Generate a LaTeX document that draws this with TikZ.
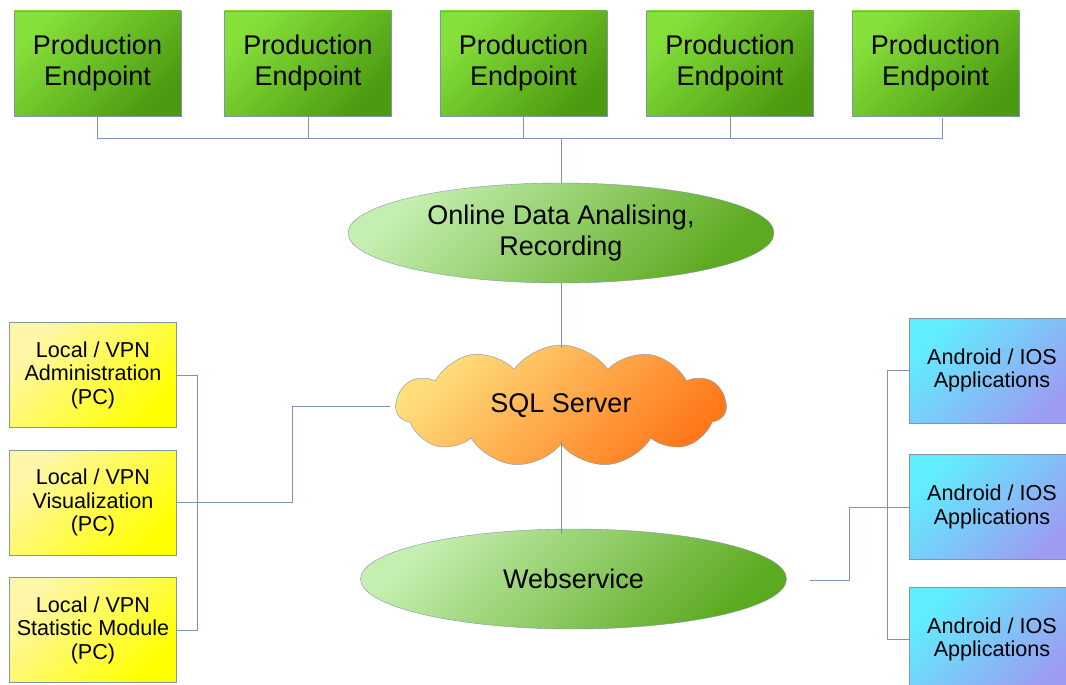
\documentclass[tikz,border=0pt]{standalone}
\usepackage{fontspec}
\setmainfont{Liberation Sans}
\usetikzlibrary{shapes.geometric,shapes.symbols}

\definecolor{linkcol}{HTML}{7B93B5}
\definecolor{edgecol}{HTML}{8294A8}
\definecolor{greenA}{RGB}{134,224,58}
\definecolor{greenB}{RGB}{76,154,16}
\definecolor{paleA}{RGB}{197,239,176}
\definecolor{paleB}{RGB}{92,170,32}
\definecolor{orangeA}{RGB}{255,222,124}
\definecolor{orangeB}{RGB}{255,120,26}
\definecolor{yellowA}{RGB}{255,246,170}
\definecolor{yellowB}{RGB}{255,255,0}
\definecolor{blueA}{RGB}{96,238,255}
\definecolor{blueB}{RGB}{156,156,242}

\tikzset{
  link/.style={draw=linkcol, line width=0.8pt},
  diag/.style 2 args={draw=edgecol, top color=#1, bottom color=#2, shading angle=45,
    inner sep=0pt},
  bigtext/.style={font=\fontsize{27}{31}\selectfont, align=center},
  smalltext/.style={font=\fontsize{21.6}{23.5}\selectfont, align=center},
  endpoint/.style={diag={greenA}{greenB}, bigtext,
    minimum width=167pt, minimum height=105pt},
  service/.style={ellipse, diag={paleA}{paleB}, bigtext,
    minimum width=426pt, minimum height=100pt},
  dbcloud/.style={cloud, cloud puffs=11, cloud puff arc=110, cloud ignores aspect,
    diag={orangeA}{orangeB}, bigtext, minimum width=330pt, minimum height=122pt},
  client/.style={diag={yellowA}{yellowB}, smalltext,
    minimum width=167pt, minimum height=105pt},
  mobile/.style={diag={blueA}{blueB}, smalltext,
    minimum width=166pt, minimum height=105pt},
}

\begin{document}
\begin{tikzpicture}[x=1pt, y=-1pt]
  \useasboundingbox (0,0) rectangle (1066,685);

  % production endpoints along the top
  \foreach \n/\x in {1/97.5, 2/308, 3/523.5, 4/730, 5/935.5}
    \node[endpoint] (pe\n) at (\x,63.5) {Production\\Endpoint};

  \node[service] (oda) at (561,233) {Online Data Analising,\\Recording};
  \node[dbcloud] (sql) at (561,406) {SQL Server};
  \node[service] (web) at (573.5,579) {Webservice};

  % local / VPN clients
  \foreach \n/\y/\t in {adm/375/Administration, vis/502.5/Visualization,
                        stat/630/Statistic Module}
    \node[client] (\n) at (93,\y) {Local / VPN\\\t\\(PC)};

  % mobile apps, cut off on the right
  \foreach \n/\y in {1/370.5, 2/507, 3/639.5}
    \node[mobile] (app\n) at (992,\y) {Android / IOS\\Applications};

  % connectors
  \coordinate (bus) at (561,138);
  \foreach \n in {1,2,3,4}
    \draw[link] (pe\n.south) |- (bus);
  \draw[link] ([xshift=7pt,yshift=-2pt]pe5.south) |- (bus);
  \draw[link] (bus) -- (oda.north);
  \draw[link] (oda.south) -- ([yshift=-3pt]sql.north);
  \draw[link] ([yshift=3pt]sql.south) -- ([yshift=-5pt]sql.south |- web.north);

  \draw[link] (adm.east) -- ++(21,0) |- (stat.east);
  \draw[link] (vis.east) -- ++(116,0) |- ([xshift=-5pt]sql.west);

  \coordinate (webout) at (810,580);
  \draw[link] (webout) -- ++(39,0) |- (app2.west);
  \draw[link] (app1.west) -- ++(-21,0) |- (app3.west);
\end{tikzpicture}
\end{document}
